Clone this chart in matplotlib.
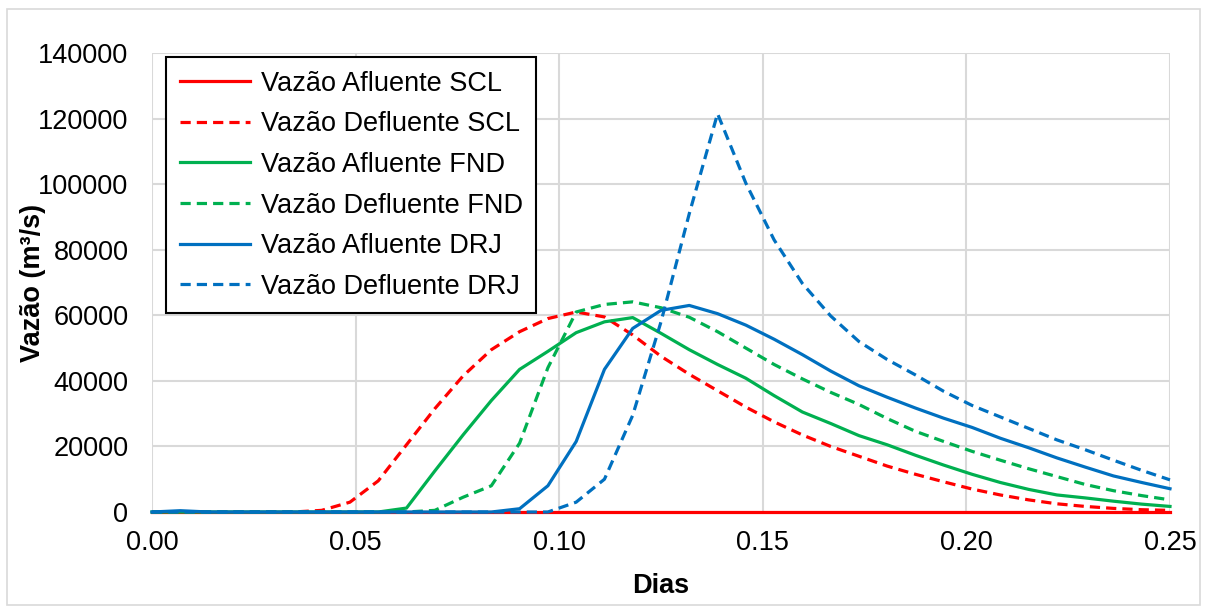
import matplotlib
matplotlib.use("Agg")
import matplotlib.pyplot as plt
from matplotlib.patches import Rectangle
import numpy as np

plt.rcParams['font.family'] = ['Liberation Sans', 'DejaVu Sans']

# tempo em dias, passo de 10 minutos
dias = np.arange(37) / 144.0

aflu_scl = [0] * 37
deflu_scl = [0, 0, 0, 0, 0, 0, 500, 3000, 9500, 20500, 31500, 41500, 49500, 55000,
             59000, 61000, 59500, 54000, 47500, 42000, 37000, 32000, 27500, 23500,
             20000, 17000, 14000, 11500, 9200, 7000, 5200, 3700, 2500, 1700, 1100, 700, 500]
aflu_fnd = [0, 0, 0, 0, 0, 0, 0, 0, 0, 1200, 12500, 23500, 34000, 43500,
            49000, 54700, 58000, 59300, 54500, 49500, 45000, 40800, 35500, 30500,
            27000, 23300, 20500, 17300, 14300, 11500, 9000, 6900, 5200, 4300, 3300, 2400, 1700]
deflu_fnd = [0, 0, 0, 0, 0, 0, 0, 0, 0, 0, 500, 4500, 8000, 21000,
             44000, 61000, 63300, 64100, 62300, 59400, 55000, 50000, 45000, 40600,
             36500, 32800, 28500, 24600, 21500, 18500, 15800, 13200, 10800, 8400, 6500, 5000, 3700]
aflu_drj = [0, 400, 0, 0, 0, 0, 0, 0, 0, 0, 0, 0, 0, 1000,
            8000, 21500, 43500, 56000, 61500, 63000, 60500, 57000, 52700, 48000,
            43000, 38500, 35000, 31700, 28600, 25800, 22500, 19600, 16500, 13700, 11000, 9000, 7100]
deflu_drj = [0, 0, 0, 0, 0, 0, 0, 0, 0, 0, 0, 0, 0, 0,
             0, 3000, 10000, 29500, 58000, 91000, 121500, 100300, 83000, 69700,
             59800, 52000, 46500, 41800, 36800, 32500, 29000, 25500, 22000, 19000, 15800, 12700, 9800]

series = [
    ("Vazão Afluente SCL", aflu_scl, "#FF0000", "-"),
    ("Vazão Defluente SCL", deflu_scl, "#FF0000", "--"),
    ("Vazão Afluente FND", aflu_fnd, "#00B050", "-"),
    ("Vazão Defluente FND", deflu_fnd, "#00B050", "--"),
    ("Vazão Afluente DRJ", aflu_drj, "#0070C0", "-"),
    ("Vazão Defluente DRJ", deflu_drj, "#0070C0", "--"),
]

fig = plt.figure(figsize=(12.08, 6.13), dpi=100)
ax = fig.add_axes([152 / 1208, 1 - 512 / 613, 1018 / 1208, 459 / 613])

for nome, vals, cor, estilo in series:
    ln, = ax.plot(dias, vals, estilo, color=cor, lw=2.3, label=nome, clip_on=False)
    if estilo == "--":
        ln.set_dashes((3.2, 1.9))

ax.set_xlim(0, 0.25)
ax.set_ylim(0, 140000)
ax.set_xticks(np.arange(0, 0.2501, 0.05))
ax.set_xticklabels(["%.2f" % v for v in np.arange(0, 0.2501, 0.05)])
ax.set_yticks(np.arange(0, 140001, 20000))
ax.grid(True, color="#D9D9D9", lw=1.5)
ax.set_axisbelow(True)
for s in ax.spines.values():
    s.set_visible(False)
ax.tick_params(axis="both", length=0, labelsize=19.5, colors="#000000")
ax.tick_params(axis="x", pad=13)
ax.tick_params(axis="y", pad=17)

ax.set_xlabel("Dias", fontsize=19.5, fontweight="bold")
ax.set_ylabel("Vazão (m³/s)", fontsize=19.5, fontweight="bold")
ax.xaxis.set_label_coords(0.5, -0.133)
ax.yaxis.set_label_coords(-0.104, 0.5)

leg = ax.legend(loc="upper left", bbox_to_anchor=(0.0138, 0.991), borderaxespad=0,
                fontsize=19.5, frameon=True, fancybox=False, framealpha=1,
                edgecolor="black", handlelength=2.6, handletextpad=0.4,
                labelspacing=0.54, borderpad=0.5)
leg.get_frame().set_linewidth(1.5)

fig.patches.append(Rectangle((7 / 1208, 8 / 613), 1193 / 1208, 596 / 613,
                             transform=fig.transFigure, fill=False,
                             edgecolor="#D9D9D9", lw=1.2))

fig.savefig("out.png", dpi=100)
